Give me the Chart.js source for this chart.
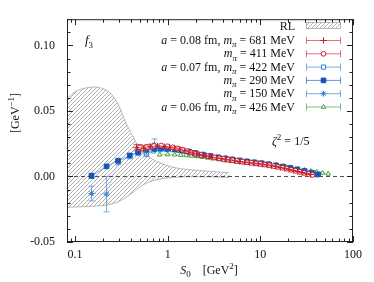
<!DOCTYPE html>
<html><head><meta charset="utf-8">
<script src="https://cdn.jsdelivr.net/npm/chart.js@4.4.1/dist/chart.umd.min.js"></script>
<style>html,body{margin:0;padding:0;background:#fff;}#wrap{width:374px;height:282px;}</style>
</head><body><div id="wrap"><canvas id="c" width="374" height="282"></canvas></div>
<script>
// ---- tick labels ----
const xTickVals = [0.1, 1, 10, 100];
const xTickLabels = ['0.1', '1', '10', '100'];
const yTickVals = [-0.05, 0, 0.05, 0.10];
const yTickLabels = ['-0.05', '0.00', '0.05', '0.10'];

// ---- RL band ----
const bandX  = [0.082,0.10,0.13,0.168,0.2,0.234,0.27,0.30,0.353,0.417,0.49,0.56,0.63,0.76,0.95,1.14,1.5,2.0,2.8,3.6,4.6];
const bandUp = [0.0595,0.0645,0.0675,0.0683,0.0670,0.0646,0.0590,0.0535,0.0411,0.0312,0.0223,0.0180,0.0149,0.0115,0.0088,0.0070,0.0056,0.0048,0.0040,0.0034,0.0028];
const bandLo = [-0.0235,-0.0233,-0.0230,-0.0226,-0.0222,-0.0215,-0.0203,-0.0190,-0.0160,-0.0125,-0.0085,-0.0060,-0.0042,-0.0025,-0.0013,-0.0007,-0.0003,-0.0002,-0.0003,-0.0005,-0.0008];

// ---- a=0.08 fm, mpi=681 MeV ----
const x681 = [0.46,0.55,0.65,0.78,0.92,1.05,1.19,1.35,1.53,1.7,1.87,2.05,2.2,2.4,2.6,2.8,3.0,3.4,3.8,4.2,4.7,5.3,6.0,6.8,7.6,8.5,9.5,10.6,11.8,13.2,14.7,16.4,18.3,20.4,22.7,25.3,28.2,31.4,35.0];
const y681 = [0.0220,0.0215,0.0228,0.0233,0.0228,0.0224,0.0217,0.0208,0.0197,0.0187,0.0178,0.0171,0.0166,0.0161,0.0156,0.0151,0.0146,0.0141,0.0136,0.0131,0.0126,0.0120,0.0114,0.0109,0.0105,0.0101,0.0097,0.0093,0.0088,0.0082,0.0076,0.0069,0.0062,0.0054,0.0046,0.0038,0.0030,0.0022,0.0015];
const e681 = [0.0025,0.0022,0.0018,0.0015,0.0012,0.0010,0.0009,0.0008,0.0008,0.0007,0.0007,0.0007,0.0006,0.0006,0.0006,0.0006,0.0006,0.0005,0.0005,0.0005,0.0005,0.0005,0.0005,0.0005,0.0005,0.0005,0.0005,0.0005,0.0005,0.0005,0.0005,0.0005,0.0005,0.0005,0.0005,0.0005,0.0005,0.0005,0.0005];

// ---- mpi=411 MeV ----
const x411 = [0.50,0.60,0.71,0.85,1.0,1.13,1.27,1.44,1.62,1.8,2.0,2.3,2.7,3.2,3.6,4.0,4.5,5.0,5.6,6.4,7.2,8.0,9.0,10.0,11.2,12.5,14.0,15.5,17.3,19.3,21.5,24.0,26.7,29.7,33.0,36.5];
const y411 = [0.0222,0.0225,0.0234,0.0236,0.0230,0.0222,0.0214,0.0204,0.0193,0.0183,0.0174,0.0164,0.0155,0.0145,0.0139,0.0134,0.0129,0.0124,0.0119,0.0113,0.0108,0.0104,0.0100,0.0096,0.0091,0.0086,0.0079,0.0073,0.0066,0.0059,0.0051,0.0043,0.0035,0.0027,0.0019,0.0012];
const e411 = [0.0022,0.0018,0.0015,0.0012,0.0010,0.0009,0.0008,0.0007,0.0007,0.0006,0.0006,0.0006,0.0006,0.0005,0.0005,0.0005,0.0005,0.0005,0.0005,0.0005,0.0005,0.0005,0.0005,0.0005,0.0005,0.0005,0.0005,0.0005,0.0005,0.0005,0.0005,0.0005,0.0005,0.0005,0.0005,0.0005];

// ---- a=0.07 fm, mpi=422 MeV ----
const x422 = [0.48,0.59,0.70,0.83,0.97,1.13,1.3,1.5,1.75,2.05,2.4,2.8,3.3,3.9,4.6,5.4,6.4,7.6,9.0,10.6,12.5,14.8,17.5,20.7,24.5,29,34,40];
const y422 = [0.0186,0.0173,0.0195,0.0205,0.0207,0.0205,0.0200,0.0193,0.0183,0.0172,0.0162,0.0153,0.0145,0.0137,0.0129,0.0122,0.0115,0.0108,0.0102,0.0096,0.0089,0.0081,0.0072,0.0062,0.0051,0.0039,0.0027,0.0014];
const e422 = [0.0022,0.0020,0.0015,0.0012,0.0010,0.0009,0.0008,0.0007,0.0007,0.0006,0.0006,0.0006,0.0006,0.0006,0.0006,0.0006,0.0006,0.0006,0.0006,0.0006,0.0006,0.0006,0.0006,0.0006,0.0006,0.0006,0.0006,0.0006];

// ---- mpi=290 MeV ----
const x290 = [0.151,0.219,0.292,0.39,0.48,0.59,0.72,0.85,1.0,1.2,1.4,1.7,2.0,2.4,2.9,3.5,4.2,5.0,6.0,7.2,8.6,10.3,12.3,14.7,17.6,21.0,25.0,30.0,36.0,42.0];
const y290 = [0.0005,0.0077,0.0120,0.0160,0.0187,0.0205,0.0210,0.0214,0.0212,0.0208,0.0201,0.0190,0.0179,0.0167,0.0156,0.0146,0.0138,0.0130,0.0122,0.0115,0.0108,0.0101,0.0093,0.0085,0.0075,0.0065,0.0054,0.0042,0.0029,0.0016];
const e290 = [0.0020,0.0010,0.0012,0.0015,0.0013,0.0011,0.0010,0.0008,0.0007,0.0007,0.0006,0.0006,0.0006,0.0006,0.0006,0.0006,0.0006,0.0006,0.0006,0.0006,0.0006,0.0006,0.0006,0.0006,0.0006,0.0006,0.0006,0.0006,0.0006,0.0006];

// ---- mpi=150 MeV ----
const x150 = [0.151,0.219,0.292,0.39,0.48,0.59,0.72,0.85,1.0,1.2,1.4,1.7,2.0,2.4,2.9,3.5,4.2,5.0,6.0,7.2,8.6,10.3,12.3,14.7,17.6,21.0,25.0,30.0,36.0,42.0];
const y150 = [-0.0130,-0.0135,0.0110,0.0155,0.0180,0.0190,0.0243,0.0215,0.0211,0.0207,0.0200,0.0189,0.0178,0.0166,0.0155,0.0146,0.0138,0.0130,0.0122,0.0115,0.0108,0.0101,0.0093,0.0085,0.0076,0.0066,0.0055,0.0043,0.0030,0.0017];
const e150 = [0.0056,0.0135,0.0020,0.0020,0.0020,0.0020,0.0043,0.0015,0.0012,0.0010,0.0010,0.0009,0.0008,0.0007,0.0007,0.0007,0.0007,0.0007,0.0007,0.0007,0.0007,0.0007,0.0007,0.0007,0.0007,0.0007,0.0007,0.0007,0.0007,0.0007];

// ---- a=0.06 fm, mpi=426 MeV ----
const x426 = [0.82,1.0,1.19,1.38,1.58,1.8,2.05,2.35,2.7,3.1,3.6,4.2,4.9,5.7,6.6,7.7,9.0,10.5,12.2,14.2,16.5,19.2,22.3,26.0,30.0,35.0,40.5,47.0,54.0];
const y426 = [0.0166,0.0168,0.0166,0.0163,0.0161,0.0157,0.0153,0.0148,0.0143,0.0137,0.0130,0.0122,0.0116,0.0111,0.0106,0.0102,0.0098,0.0093,0.0088,0.0082,0.0076,0.0069,0.0062,0.0055,0.0048,0.0041,0.0034,0.0027,0.0020];
const e426 = [0.0012,0.0010,0.0009,0.0008,0.0008,0.0007,0.0007,0.0007,0.0006,0.0006,0.0006,0.0006,0.0006,0.0006,0.0006,0.0006,0.0006,0.0006,0.0006,0.0006,0.0006,0.0006,0.0006,0.0006,0.0006,0.0006,0.0006,0.0006,0.0006];

const FONT = "'Liberation Serif', 'DejaVu Serif', serif";
const RED = 'rgb(200,30,40)', REDL = 'rgba(215,70,80,0.75)';
const BLUE = 'rgb(20,85,185)', BLUEL = 'rgba(40,105,200,0.7)';
const LBLUE = 'rgb(55,130,210)', LBLUEL = 'rgba(70,140,215,0.7)';
const GREEN = 'rgb(60,160,55)', GREENL = 'rgba(80,170,70,0.7)';

function pts(xs, ys) { return xs.map((x, i) => ({x: x, y: ys[i]})); }

function hatch(size) {
  const c = document.createElement('canvas'); c.width = size; c.height = size;
  const g = c.getContext('2d');
  g.strokeStyle = '#9a9a9a'; g.lineWidth = 0.8;
  g.beginPath();
  g.moveTo(0, size); g.lineTo(size, 0);
  g.moveTo(-1, 1); g.lineTo(1, -1);
  g.moveTo(size - 1, size + 1); g.lineTo(size + 1, size - 1);
  g.stroke();
  return g.createPattern(c, 'repeat');
}
const PAT = hatch(4);

function series(label, xs, ys, es, col, lcol, style, fill, radius, order, dash) {
  return {
    label: label, data: pts(xs, ys), errs: es, errColor: lcol,
    showLine: true, borderColor: lcol, borderWidth: 0.8, borderDash: dash || [],
    pointStyle: style, pointRadius: radius, pointBorderColor: col, pointBackgroundColor: fill,
    pointBorderWidth: 1, order: order, tension: 0
  };
}

const datasets = [
  {label: 'RLup', data: pts(bandX, bandUp), borderColor: '#a8a8a8', borderWidth: 0.8, pointRadius: 0,
   fill: '+1', backgroundColor: PAT, cubicInterpolationMode: 'monotone', showLine: true, order: 20},
  {label: 'RLlo', data: pts(bandX, bandLo), borderColor: '#a8a8a8', borderWidth: 0.8, pointRadius: 0,
   fill: false, cubicInterpolationMode: 'monotone', showLine: true, order: 19},
  series('426', x426, y426, e426, GREEN, GREENL, 'triangle', '#fff', 2.6, 6),
  series('422', x422, y422, e422, LBLUE, LBLUEL, 'rect', '#fff', 3.0, 5),
  series('150', x150, y150, e150, LBLUE, LBLUEL, 'star', LBLUE, 3.0, 4, [1.5, 1.5]),
  series('290', x290, y290, e290, BLUE, BLUEL, 'rect', BLUE, 3.3, 3),
  series('411', x411, y411, e411, RED, REDL, 'circle', '#fff', 2.4, 2),
  series('681', x681, y681, e681, RED, REDL, 'cross', RED, 3.2, 1)
];

function drawRich(ctx, segs, x, y, align, size) {
  const base = size || 12;
  const f = s => (s.it ? 'italic ' : '') + ((s.sub || s.sup) ? Math.round(base * 0.72) : base) + 'px ' + FONT;
  let w = 0;
  segs.forEach(s => { ctx.font = f(s); w += ctx.measureText(s.t).width; });
  let cx = align === 'right' ? x - w : (align === 'center' ? x - w / 2 : x);
  ctx.textBaseline = 'alphabetic'; ctx.textAlign = 'left';
  segs.forEach(s => {
    ctx.font = f(s);
    const dy = s.sub ? base * 0.28 : (s.sup ? -base * 0.4 : 0);
    ctx.fillText(s.t, cx, y + dy);
    cx += ctx.measureText(s.t).width;
  });
}

const legendRows = [
  {segs: [{t: 'a', it: 1}, {t: ' = 0.08 fm, '}, {t: 'm', it: 1}, {t: 'π', it: 1, sub: 1}, {t: ' = 681 MeV'}], ds: '681'},
  {segs: [{t: 'm', it: 1}, {t: 'π', it: 1, sub: 1}, {t: ' = 411 MeV'}], ds: '411'},
  {segs: [{t: 'a', it: 1}, {t: ' = 0.07 fm, '}, {t: 'm', it: 1}, {t: 'π', it: 1, sub: 1}, {t: ' = 422 MeV'}], ds: '422'},
  {segs: [{t: 'm', it: 1}, {t: 'π', it: 1, sub: 1}, {t: ' = 290 MeV'}], ds: '290'},
  {segs: [{t: 'm', it: 1}, {t: 'π', it: 1, sub: 1}, {t: ' = 150 MeV'}], ds: '150'},
  {segs: [{t: 'a', it: 1}, {t: ' = 0.06 fm, '}, {t: 'm', it: 1}, {t: 'π', it: 1, sub: 1}, {t: ' = 426 MeV'}], ds: '426'}
];

const plugin = {
  id: 'custom',
  beforeDatasetDraw(chart, args) {
    const ds = chart.data.datasets[args.index];
    if (!ds.errs) return;
    const ctx = chart.ctx, xs = chart.scales.x, ys = chart.scales.y;
    ctx.save();
    ctx.strokeStyle = ds.errColor; ctx.lineWidth = 1;
    ds.data.forEach((p, i) => {
      const e = ds.errs[i];
      const px = xs.getPixelForValue(p.x);
      const y1 = ys.getPixelForValue(p.y - e), y2 = ys.getPixelForValue(p.y + e);
      ctx.beginPath(); ctx.moveTo(px, y1); ctx.lineTo(px, y2);
      if (y1 - y2 > 4) {
        ctx.moveTo(px - 3, y1); ctx.lineTo(px + 3, y1);
        ctx.moveTo(px - 3, y2); ctx.lineTo(px + 3, y2);
      }
      ctx.stroke();
    });
    ctx.restore();
  },
  afterDatasetDraw(chart, args) {
    const ds = chart.data.datasets[args.index];
    if (ds.label !== 'RLlo') return;
    const ctx = chart.ctx, a = chart.chartArea, y0 = chart.scales.y.getPixelForValue(0);
    ctx.save();
    ctx.strokeStyle = '#333'; ctx.lineWidth = 0.9; ctx.setLineDash([4, 3]);
    ctx.beginPath(); ctx.moveTo(a.left, y0); ctx.lineTo(a.right, y0); ctx.stroke();
    ctx.restore();
  },
  afterDraw(chart) {
    const ctx = chart.ctx, a = chart.chartArea, xs = chart.scales.x, ys = chart.scales.y;
    ctx.save();
    ctx.strokeStyle = '#222'; ctx.lineWidth = 1;
    ctx.strokeRect(a.left + 0.5, a.top + 0.5, a.right - a.left - 1, a.bottom - a.top - 1);
    ctx.beginPath();
    for (let d = 0.01; d < 200; d *= 10) {
      for (let m = 1; m <= 9; m++) {
        const v = m * d;
        if (v < xs.min || v > xs.max * 1.0001) continue;
        const px = Math.round(xs.getPixelForValue(v)) + 0.5;
        const L = m === 1 ? 6 : 3.5;
        ctx.moveTo(px, a.bottom); ctx.lineTo(px, a.bottom - L);
        ctx.moveTo(px, a.top); ctx.lineTo(px, a.top + L);
      }
    }
    for (let k = -5; k <= 12; k++) {
      const v = k / 100;
      const py = Math.round(ys.getPixelForValue(v)) + 0.5;
      const L = k % 5 === 0 ? 6 : 3.5;
      ctx.moveTo(a.left, py); ctx.lineTo(a.left + L, py);
      ctx.moveTo(a.right, py); ctx.lineTo(a.right - L, py);
    }
    ctx.stroke();

    ctx.fillStyle = '#111';
    drawRich(ctx, [{t: 'f', it: 1}, {t: '3', sub: 1}], 85, 44, 'left', 13);
    drawRich(ctx, [{t: 'ζ', it: 1}, {t: '2', sup: 1}, {t: ' = 1/5'}], 272, 145, 'left', 12);
    drawRich(ctx, [{t: 'S', it: 1}, {t: '0', sub: 1}, {t: '    [GeV'}, {t: '2', sup: 1}, {t: ']'}], 209, 274, 'center', 12);
    ctx.save(); ctx.translate(19, 113); ctx.rotate(-Math.PI / 2);
    drawRich(ctx, [{t: '[GeV'}, {t: '−1', sup: 1}, {t: ']'}], 0, 0, 'center', 12);
    ctx.restore();

    // legend
    const tx = 295, sx1 = 306, sx2 = 341, smid = (sx1 + sx2) / 2;
    ctx.fillStyle = '#111';
    drawRich(ctx, [{t: 'RL'}], tx, 29.5, 'right', 12);
    ctx.fillStyle = PAT; ctx.fillRect(sx1, 22, sx2 - sx1, 7);
    ctx.strokeStyle = '#a8a8a8'; ctx.lineWidth = 0.8; ctx.strokeRect(sx1 + 0.5, 22.5, sx2 - sx1 - 1, 6);
    legendRows.forEach((r, i) => {
      const y = 40 + i * 13.3;
      ctx.fillStyle = '#111';
      drawRich(ctx, r.segs, tx, y + 4, 'right', 12);
      const ds = chart.data.datasets.find(d => d.label === r.ds);
      ctx.strokeStyle = ds.errColor; ctx.lineWidth = 1; ctx.setLineDash([]);
      ctx.beginPath();
      ctx.moveTo(sx1, y + 0.5); ctx.lineTo(sx2, y + 0.5);
      ctx.moveTo(sx1 + 0.5, y - 3); ctx.lineTo(sx1 + 0.5, y + 4);
      ctx.moveTo(sx2 - 0.5, y - 3); ctx.lineTo(sx2 - 0.5, y + 4);
      ctx.stroke();
      ctx.fillStyle = ds.pointBackgroundColor; ctx.strokeStyle = ds.pointBorderColor; ctx.lineWidth = 1;
      Chart.helpers.drawPoint(ctx, {pointStyle: ds.pointStyle, radius: ds.pointRadius, borderWidth: 1, rotation: 0}, smid, y + 0.5);
    });
    ctx.restore();
  }
};

new Chart(document.getElementById('c'), {
  type: 'scatter',
  data: {datasets: datasets},
  options: {
    responsive: false, animation: false,
    layout: {padding: {top: 14, right: 21, left: 0, bottom: 0}},
    plugins: {legend: {display: false}, tooltip: {enabled: false}},
    scales: {
      x: {
        type: 'logarithmic', min: 0.082, max: 100,
        afterBuildTicks: s => { s.ticks = xTickVals.map(v => ({value: v})); },
        afterFit: s => { s.height = 40; },
        ticks: {callback: v => { const i = xTickVals.indexOf(v); return i >= 0 ? xTickLabels[i] : ''; },
                font: {family: FONT, size: 12}, color: '#111', padding: 6, maxRotation: 0, autoSkip: false},
        grid: {display: false, drawTicks: false}, border: {display: false}
      },
      y: {
        type: 'linear', min: -0.05, max: 0.12,
        afterBuildTicks: s => { s.ticks = yTickVals.map(v => ({value: v})); },
        afterFit: s => { s.width = 67; },
        ticks: {callback: v => { const i = yTickVals.findIndex(t => Math.abs(t - v) < 1e-9); return i >= 0 ? yTickLabels[i] : ''; },
                font: {family: FONT, size: 12}, color: '#111', padding: 12},
        grid: {display: false, drawTicks: false}, border: {display: false}
      }
    }
  },
  plugins: [plugin]
});
</script></body></html>
